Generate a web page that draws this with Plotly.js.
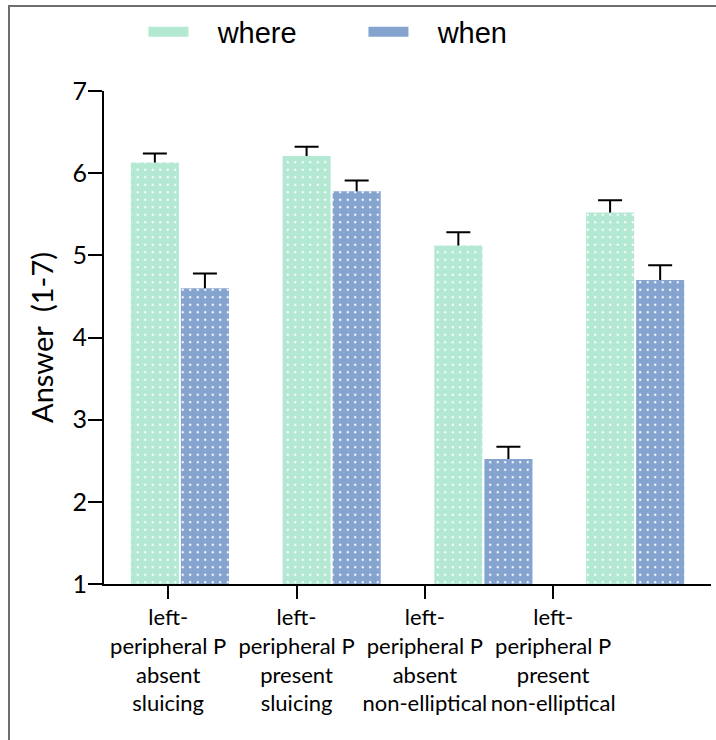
<!DOCTYPE html>
<html>
<head>
<meta charset="utf-8">
<script src="https://cdn.plot.ly/plotly-3.0.1.min.js"></script>
<style>
  html, body { margin: 0; padding: 0; background: #ffffff; }
  #wrap { position: relative; width: 716px; height: 740px; overflow: hidden; }
  #chart { position: absolute; left: 0; top: 0; width: 716px; height: 740px; }
  #frame { position: absolute; left: 8px; top: 5px; width: 800px; height: 800px;
           border-top: 2px solid #6e6e6e; border-left: 2px solid #6e6e6e; pointer-events: none; }
</style>
</head>
<body>
<div id="wrap">
  <div id="chart"></div>
  <div id="frame"></div>
</div>
<script>
// ---- data ----
const categories = [
  "left-<br>peripheral P<br>absent<br>sluicing",
  "left-<br>peripheral P<br>present<br>sluicing",
  "left-<br>peripheral P<br>absent<br>non-elliptical",
  "left-<br>peripheral P<br>present<br>non-elliptical"
];
const seriesNames = ["where", "when"];
const whereMeans = [6.13, 6.21, 5.12, 5.52];
const whereErr   = [0.11, 0.11, 0.16, 0.15];
const whenMeans  = [4.60, 5.78, 2.52, 4.70];
const whenErr    = [0.18, 0.13, 0.15, 0.18];
const yTickVals  = [1, 2, 3, 4, 5, 6, 7];

// ---- styles ----
const greenCol = "#b3e8d3";
const blueCol  = "#85a3cf";
const tickFont = "Lato, Carlito, 'Open Sans', sans-serif";

// error bars only (drawn first, their lower part hidden behind the bars)
function errTrace(name, vals, errs) {
  return {
    type: "bar", name: name + " SEM", x: categories, y: vals,
    offsetgroup: name, showlegend: false, hoverinfo: "skip",
    marker: { color: "rgba(0,0,0,0)", line: { width: 0 } },
    error_y: {
      type: "data", symmetric: false,
      array: errs, arrayminus: vals,
      color: "#000000", thickness: 2, width: 12
    }
  };
}

function barTrace(name, vals, col) {
  return {
    type: "bar", name: name, x: categories, y: vals,
    offsetgroup: name, showlegend: false, hoverinfo: "skip",
    marker: {
      color: col,
      line: { width: 0 },
      pattern: { shape: ".", bgcolor: col, fgcolor: "#ffffff", size: 7.5, solidity: 0.08, fillmode: "replace" }
    }
  };
}

const traces = [
  errTrace(seriesNames[0], whereMeans, whereErr),
  errTrace(seriesNames[1], whenMeans, whenErr),
  barTrace(seriesNames[0], whereMeans, greenCol),
  barTrace(seriesNames[1], whenMeans, blueCol),
  {
    type: "scatter", mode: "markers",
    x: categories, y: categories.map(() => null),
    xaxis: "x2", yaxis: "y",
    showlegend: false, hoverinfo: "skip"
  }
];

function legendShape(name, col) {
  return {
    type: "line", xref: "paper", yref: "paper",
    x0: 0, x1: 0, y0: 0, y1: 0,
    showlegend: true, name: "\u00a0\u00a0\u00a0" + name,
    line: { color: col, width: 18 }
  };
}

const layout = {
  width: 716, height: 740,
  margin: { l: 104, r: 5, t: 91, b: 156 },
  paper_bgcolor: "rgba(0,0,0,0)",
  plot_bgcolor: "rgba(0,0,0,0)",
  barmode: "group",
  bargap: 0.34,
  bargroupgap: 0.04,
  showlegend: true,
  shapes: [legendShape(seriesNames[0], greenCol), legendShape(seriesNames[1], blueCol)],
  legend: {
    orientation: "h",
    x: 0.065, xanchor: "left",
    y: 1.12, yanchor: "middle",
    font: { family: "'Liberation Sans', Arial, sans-serif", size: 29, color: "#000000" },
    entrywidth: 165, entrywidthmode: "pixels",
    itemwidth: 40,
    bgcolor: "rgba(0,0,0,0)"
  },
  xaxis: {
    type: "category",
    domain: [0, 1],
    range: [-0.5, 3.5],
    showticklabels: false,
    ticks: "",
    showline: true, linecolor: "#000000", linewidth: 2,
    showgrid: false, zeroline: false,
    fixedrange: true
  },
  xaxis2: {
    type: "category",
    anchor: "y",
    domain: [0, 0.8457],
    range: [-0.5, 3.5],
    showline: false,
    ticks: "outside", ticklen: 14, tickwidth: 2, tickcolor: "#000000",
    tickfont: { family: tickFont, size: 22, color: "#000000" },
    showgrid: false, zeroline: false,
    fixedrange: true
  },
  yaxis: {
    range: [1, 7],
    tickvals: yTickVals,
    ticks: "outside", ticklen: 14, tickwidth: 2, tickcolor: "#000000",
    ticklabelstandoff: -4,
    tickfont: { family: tickFont, size: 25, color: "#000000" },
    showline: true, linecolor: "#000000", linewidth: 2,
    showgrid: false, zeroline: false,
    title: { text: "Answer \u00a0(1-7)", font: { family: tickFont, size: 29, color: "#000000" }, standoff: 10 },
    fixedrange: true
  }
};

Plotly.newPlot("chart", traces, layout, { displayModeBar: false, staticPlot: true });
</script>
</body>
</html>
